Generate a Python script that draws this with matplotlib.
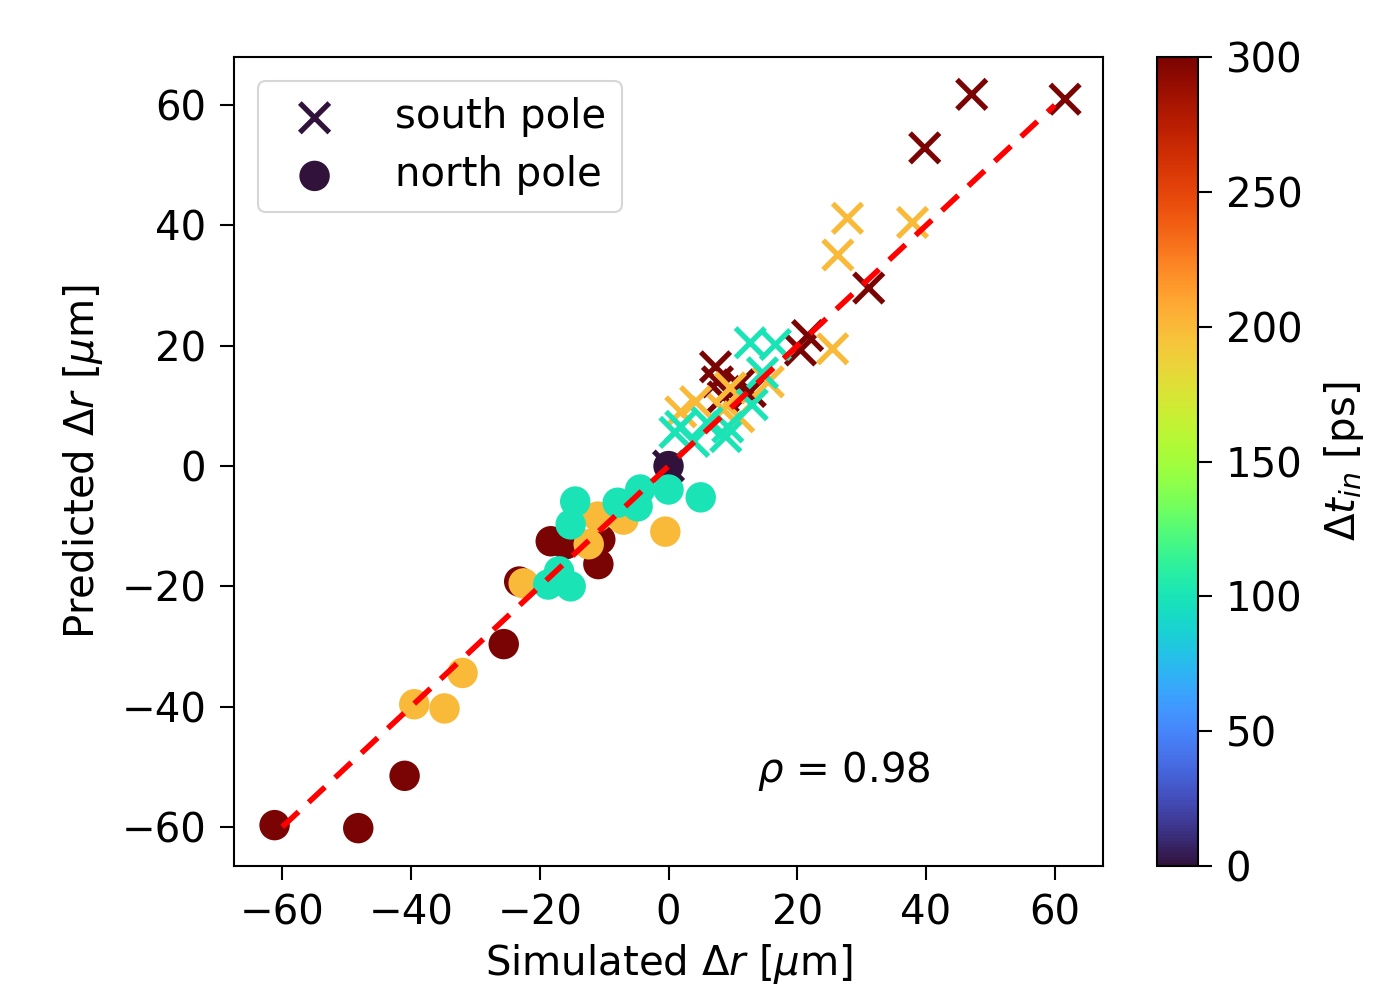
import numpy as np
import matplotlib
matplotlib.use("Agg")
import matplotlib.pyplot as plt

# south pole (x markers): simulated, predicted, delta t_in [ps]
south_sim = [0, 61.6, 47.1, 39.8, 31.1, 21.6, 20.5, 7.3, 7.6, 12.7, 10.9, 8.5,
             27.8, 26.3, 37.9, 25.5, 15.5, 9.6, 4.2, 1.9, 8.5, 10.9,
             12.7, 16.6, 14.6, 13.0, 8.9, 6.0, 1.9, 1.0, 3.9, 9.2]
south_pred = [0, 61.0, 61.8, 52.9, 29.6, 21.7, 19.3, 16.5, 14.0, 12.4, 13.5, 11.5,
              41.2, 35.1, 40.5, 19.5, 14.0, 13.0, 10.7, 9.0, 9.4, 8.2,
              20.5, 20.2, 15.5, 10.2, 4.9, 7.2, 6.6, 5.6, 4.1, 6.5]
south_dt = [0, 300, 300, 300, 300, 300, 300, 300, 300, 300, 300, 300,
            200, 200, 200, 200, 200, 200, 200, 200, 200, 200,
            100, 100, 100, 100, 100, 100, 100, 100, 100, 100]

# north pole (circles)
north_sim = [0, -61.2, -48.2, -41.0, -25.6, -23.2, -18.3, -10.6, -10.9, -16.0,
             -39.5, -34.8, -32.0, -22.5, -0.5, -11.0, -7.0, -12.4,
             -14.5, -15.2, -7.9, -4.4, 0.0, 5.0, -4.8, -18.7, -15.2, -17.0]
north_pred = [0, -59.7, -60.2, -51.5, -29.6, -19.2, -12.5, -12.2, -16.3, -13.0,
              -39.6, -40.3, -34.4, -19.5, -10.9, -8.4, -8.9, -13.0,
              -5.9, -9.7, -6.1, -3.9, -3.9, -5.2, -6.7, -19.7, -20.0, -17.5]
north_dt = [0, 300, 300, 300, 300, 300, 300, 300, 300, 300,
            200, 200, 200, 200, 200, 200, 200, 200,
            100, 100, 100, 100, 100, 100, 100, 100, 100, 100]

rho = 0.98

fs = 29
fig = plt.figure(figsize=(13.88, 9.91), dpi=100)
ax = fig.add_axes([0.1686, 0.1261, 0.6261, 0.8163])
cax = fig.add_axes([0.8336, 0.1261, 0.0295, 0.8163])

sc = ax.scatter(south_sim, south_pred, c=south_dt, cmap="turbo", vmin=0, vmax=300,
                marker="x", s=450, linewidths=3.8, label="south pole", zorder=2)
ax.scatter(north_sim, north_pred, c=north_dt, cmap="turbo", vmin=0, vmax=300,
           marker="o", s=480, edgecolors="none", label="north pole", zorder=2)
ax.plot([-60, 60], [-60, 60], "r--", lw=4, dashes=(4, 2.5), zorder=3)

ax.set_xlim(-67.5, 67.5)
ax.set_ylim(-66.5, 68)
ax.set_xticks([-60, -40, -20, 0, 20, 40, 60])
ax.set_yticks([-60, -40, -20, 0, 20, 40, 60])
ax.tick_params(labelsize=fs, length=10, width=1.5, pad=10)
for s in ax.spines.values():
    s.set_linewidth(1.5)
ax.set_xlabel(r"Simulated $\Delta r$ [$\mu$m]", fontsize=fs, labelpad=6)
ax.set_ylabel(r"Predicted $\Delta r$ [$\mu$m]", fontsize=fs, labelpad=12)
ax.text(13.8, -50.7, r"$\rho$ = %.2f" % rho, fontsize=fs, va="center")
leg = ax.legend(loc="upper left", fontsize=fs, borderpad=0.4, handletextpad=1.0,
                labelspacing=0.45, framealpha=0.8, borderaxespad=0.6)
leg.get_frame().set_linewidth(1.5)

cb = fig.colorbar(sc, cax=cax)
cb.set_ticks([0, 50, 100, 150, 200, 250, 300])
cb.ax.tick_params(labelsize=fs, length=10, width=1.5, pad=10)
cb.outline.set_linewidth(1.5)
cb.set_label(r"$\Delta t_{in}$ [ps]", fontsize=fs, labelpad=14)

fig.savefig("out.png", dpi=100)
